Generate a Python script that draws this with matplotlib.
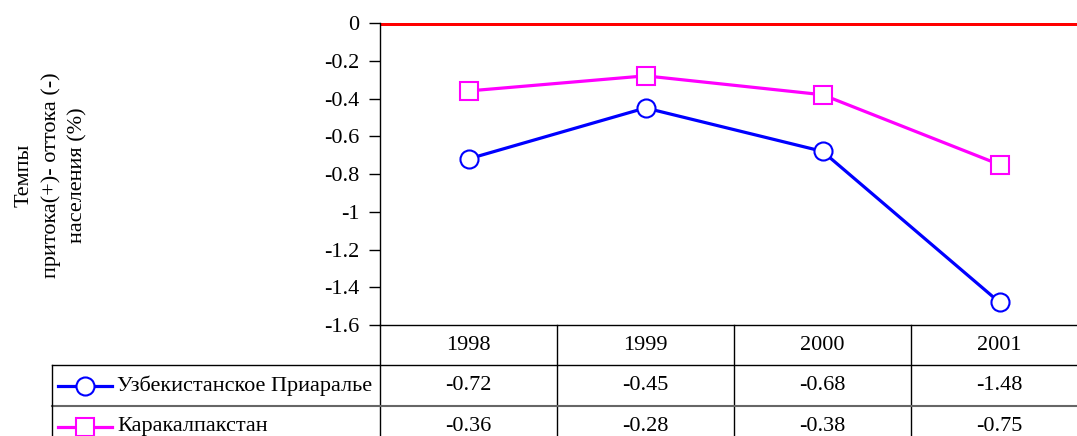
import matplotlib
matplotlib.use("Agg")
import matplotlib.pyplot as plt
from matplotlib.lines import Line2D

# данные
years = ["1998", "1999", "2000", "2001"]
uzb = [-0.72, -0.45, -0.68, -1.48]
kkp = [-0.36, -0.28, -0.38, -0.75]
names = ["Узбекистанское Приаралье", "Каракалпакстан"]

plt.rcParams['font.family'] = ['Liberation Serif', 'DejaVu Serif']

W, H = 1077, 436
fig = plt.figure(figsize=(W / 100, H / 100), dpi=100)
ax = fig.add_axes([380 / W, 1 - 325 / H, 708 / W, 302 / H])

x = list(range(len(years)))
ax.plot(x, uzb, color='blue', lw=2.3, marker='o', ms=13, mfc='white', mec='blue', mew=1.5, zorder=3)
ax.plot(x, kkp, color='magenta', lw=2.3, marker='s', ms=13, mfc='white', mec='magenta', mew=1.5, zorder=3)
ax.axhline(0, color='red', lw=3.6, zorder=2)

ax.set_xlim(-0.5, 3.5)
ax.set_ylim(-1.6, 0)
ax.set_yticks([0, -0.2, -0.4, -0.6, -0.8, -1, -1.2, -1.4, -1.6])
ax.set_yticklabels(["0", "-0.2", "-0.4", "-0.6", "-0.8", "-1", "-1.2", "-1.4", "-1.6"], fontsize=16)
ax.tick_params(axis='y', direction='out', length=8, width=1, pad=7)
ax.set_xticks([])
for s in ['top', 'right']:
    ax.spines[s].set_visible(False)
ax.spines['left'].set_linewidth(1)
ax.spines['bottom'].set_linewidth(1)

fig.text(51 / W, 1 - 175 / H, "Темпы\nпритока(+)- оттока (-)\nнаселения (%)", rotation=90,
         ha='center', va='center', fontsize=16, multialignment='center', linespacing=1.5)

# таблица данных под графиком
r1, r2, r3 = -40 / 302, -81 / 302, -122 / 302
xl = (52 - 380) / 708 * 4 - 0.5  # левый край таблицы в данных
tr = ax.get_xaxis_transform()
ax.plot([-0.5, -0.5], [0, r3], color='black', lw=1, transform=tr, clip_on=False)
for b in [0.5, 1.5, 2.5]:
    ax.plot([b, b], [0, r3], color='black', lw=1, transform=tr, clip_on=False)
ax.plot([xl, 3.6], [r1, r1], color='black', lw=1, transform=tr, clip_on=False)
ax.plot([xl, 3.6], [r2, r2], color='#666666', lw=1.5, transform=tr, clip_on=False)
ax.plot([xl, xl], [r1, r3], color='black', lw=1, transform=tr, clip_on=False)

for i, y in enumerate(years):
    ax.text(i, r1 / 2, y, ha='center', va='center', fontsize=16, transform=tr)
for i in range(len(years)):
    ax.text(i, (r1 + r2) / 2, f"{uzb[i]:.2f}", ha='center', va='center', fontsize=16, transform=tr)
    ax.text(i, (r2 + r3) / 2, f"{kkp[i]:.2f}", ha='center', va='center', fontsize=16, transform=tr)

styles = [('blue', 'o'), ('magenta', 's')]
for (c, m), nm, yy in zip(styles, names, [(r1 + r2) / 2, (r2 + r3) / 2]):
    ypix = 1 - (325 - yy * 302) / H
    fig.add_artist(Line2D([58 / W, 112 / W], [ypix, ypix], color=c, lw=2.3))
    fig.add_artist(Line2D([85 / W], [ypix], marker=m, ms=13, mfc='white', mec=c, mew=1.5, color=c))
    fig.text(117 / W, ypix, nm, ha='left', va='center', fontsize=16)

fig.savefig("out.png", dpi=100)
